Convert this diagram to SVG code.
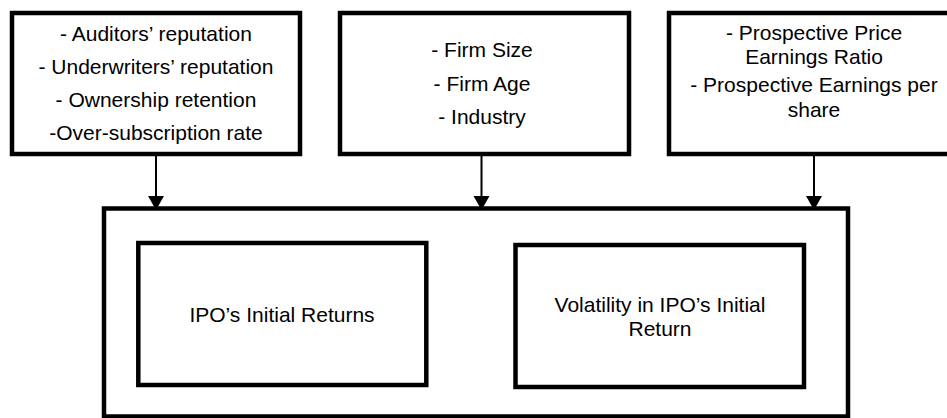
<svg xmlns="http://www.w3.org/2000/svg" width="947" height="418" viewBox="0 0 947 418">
<style>
.box{fill:#fff;stroke:#000;stroke-width:4.5}
.t{font-family:"Liberation Sans",Arial,sans-serif;font-size:21px;fill:#000;text-anchor:middle}
.c{stroke:#000;stroke-width:2;fill:none}
.h{fill:#000}
</style>
<rect width="947" height="418" fill="#fff"/>
<g id="outer">
<rect class="box" x="104" y="208.5" width="744" height="208"/>
</g>
<g id="factors1">
<rect class="box" x="12" y="13" width="288" height="141"/>
<text class="t" x="156" y="40.5">- Auditors’ reputation</text>
<text class="t" x="156" y="73.5">- Underwriters’ reputation</text>
<text class="t" x="156" y="106.5">- Ownership retention</text>
<text class="t" x="156" y="139.5">-Over-subscription rate</text>
</g>
<g id="factors2">
<rect class="box" x="340" y="13" width="289" height="141"/>
<text class="t" x="482" y="57">- Firm Size</text>
<text class="t" x="482" y="90.5">- Firm Age</text>
<text class="t" x="482" y="124">- Industry</text>
</g>
<g id="factors3">
<rect class="box" x="669" y="13" width="290" height="141"/>
<text class="t" x="814" y="39.5">- Prospective Price</text>
<text class="t" x="814" y="64">Earnings Ratio</text>
<text class="t" x="814" y="92">- Prospective Earnings per</text>
<text class="t" x="814" y="116.5">share</text>
</g>
<g id="initialReturns">
<rect class="box" x="138.3" y="243" width="288" height="142"/>
<text class="t" x="282" y="322">IPO’s Initial Returns</text>
</g>
<g id="volatility">
<rect class="box" x="515.5" y="245" width="288.5" height="142"/>
<text class="t" x="660" y="311.5">Volatility in IPO’s Initial</text>
<text class="t" x="660" y="335.5">Return</text>
</g>
<g id="connectors">
<line class="c" x1="156" y1="156" x2="156" y2="198"/>
<polygon class="h" points="148,196 164,196 156,210"/>
<line class="c" x1="481.5" y1="156" x2="481.5" y2="198"/>
<polygon class="h" points="473.5,196 489.5,196 481.5,210"/>
<line class="c" x1="814" y1="156" x2="814" y2="198"/>
<polygon class="h" points="806,196 822,196 814,210"/>
</g>
</svg>
